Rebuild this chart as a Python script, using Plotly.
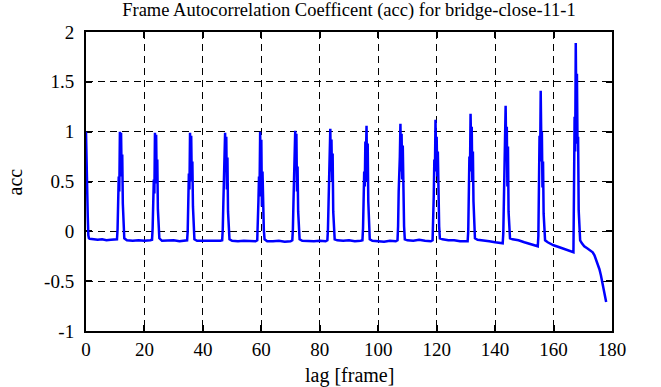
import plotly.graph_objects as go

# ---- data ----
lag = [
    0.0, 0.15, 0.3, 0.45, 0.6, 0.8, 1.0, 1.3,
    2.5, 4.0, 5.5, 7.0, 8.5, 10.0, 10.6,
    10.8, 11.0, 11.2, 11.4, 11.6, 11.8, 12.0, 12.2, 12.4, 12.6, 12.85, 13.1,
    14.0, 16.0, 18.0, 20.0, 22.0, 22.6,
    22.8, 23.0, 23.2, 23.4, 23.6, 23.8, 24.0, 24.2, 24.4, 24.6, 24.85, 25.1,
    26.0, 28.0, 30.0, 32.0, 34.0, 34.6,
    34.8, 35.0, 35.2, 35.4, 35.6, 35.8, 36.0, 36.2, 36.4, 36.6, 36.85, 37.1,
    38.0, 40.0, 42.0, 44.0, 46.0, 46.6,
    46.8, 47.0, 47.2, 47.4, 47.6, 47.8, 48.0, 48.2, 48.4, 48.6, 48.85, 49.1,
    50.0, 52.0, 54.0, 56.0, 58.0, 58.6,
    58.8, 59.0, 59.2, 59.4, 59.6, 59.8, 60.0, 60.2, 60.4, 60.6, 60.85, 61.1,
    62.0, 64.0, 66.0, 68.0, 70.0, 70.6,
    70.8, 71.0, 71.2, 71.4, 71.6, 71.8, 72.0, 72.2, 72.4, 72.6, 72.85, 73.1,
    74.0, 76.0, 78.0, 80.0, 82.0, 82.6,
    82.8, 83.0, 83.2, 83.4, 83.6, 83.8, 84.0, 84.2, 84.4, 84.6, 84.85, 85.1,
    86.0, 88.0, 90.0, 92.0, 94.0, 94.6,
    94.8, 95.0, 95.2, 95.4, 95.6, 95.8, 96.0, 96.2, 96.4, 96.6, 96.85, 97.1,
    98.0, 100.0, 102.0, 104.0, 106.0, 106.6,
    106.8, 107.0, 107.2, 107.4, 107.6, 107.8, 108.0, 108.2, 108.4, 108.6, 108.85, 109.1,
    110.0, 112.0, 114.0, 116.0, 118.0, 118.6,
    118.8, 119.0, 119.2, 119.4, 119.6, 119.8, 120.0, 120.2, 120.4, 120.6, 120.85, 121.1,
    122.0, 124.0, 126.0, 128.0, 130.0, 130.6,
    130.8, 131.0, 131.2, 131.4, 131.6, 131.8, 132.0, 132.2, 132.4, 132.6, 132.85, 133.1,
    134.0, 136.0, 138.0, 140.0, 142.0, 142.6,
    142.8, 143.0, 143.2, 143.4, 143.6, 143.8, 144.0, 144.2, 144.4, 144.6, 144.85, 145.1,
    146.0, 148.0, 150.0, 152.0, 154.0, 154.6,
    154.8, 155.0, 155.2, 155.4, 155.6, 155.8, 156.0, 156.2, 156.4, 156.6, 156.85, 157.1,
    158.0, 160.0, 162.0, 164.0, 166.0, 166.6,
    166.8, 167.0, 167.2, 167.4, 167.6, 167.8, 168.0, 168.2, 168.4, 168.6, 168.85, 169.1,
    169.7, 170.5, 171.5, 172.5, 173.4, 174.0, 174.6, 175.2, 175.7, 176.2, 176.6, 177.0, 177.4, 177.8, 178.0,
]

acc = [
    1.00, 0.70, 0.78, 0.42, 0.15, -0.04, -0.07, -0.075,
    -0.08, -0.085, -0.08, -0.09, -0.085, -0.085, -0.08,
    0.02, 0.30, 0.55, 0.40, 1.00, 0.72, 0.99, 0.55, 0.77, 0.28, 0.05, -0.07,
    -0.09, -0.095, -0.09, -0.095, -0.09, -0.085,
    0.03, 0.25, 0.52, 0.38, 0.99, 0.62, 0.97, 0.48, 0.72, 0.22, 0.03, -0.07,
    -0.095, -0.095, -0.09, -0.10, -0.095, -0.09,
    0.00, 0.22, 0.58, 0.42, 0.99, 0.66, 0.96, 0.50, 0.70, 0.25, 0.04, -0.08,
    -0.095, -0.095, -0.10, -0.095, -0.095, -0.09,
    0.02, 0.28, 0.50, 0.62, 0.99, 0.60, 0.95, 0.42, 0.74, 0.20, 0.03, -0.08,
    -0.095, -0.10, -0.095, -0.10, -0.10, -0.09,
    0.03, 0.30, 0.55, 0.45, 1.00, 0.35, 0.92, 0.25, 0.60, 0.18, 0.02, -0.08,
    -0.10, -0.10, -0.095, -0.105, -0.10, -0.09,
    0.02, 0.30, 0.48, 0.62, 1.01, 0.70, 0.98, 0.40, 0.65, 0.20, 0.03, -0.08,
    -0.095, -0.10, -0.10, -0.095, -0.10, -0.09,
    0.02, 0.28, 0.55, 0.70, 1.03, 0.60, 0.92, 0.50, 0.78, 0.20, 0.03, -0.08,
    -0.09, -0.095, -0.09, -0.10, -0.095, -0.09,
    0.03, 0.30, 0.60, 0.45, 0.90, 0.75, 1.06, 0.50, 0.88, 0.30, 0.04, -0.08,
    -0.095, -0.10, -0.105, -0.095, -0.10, -0.09,
    0.05, 0.40, 0.55, 0.75, 1.08, 0.60, 0.98, 0.52, 0.86, 0.25, 0.05, -0.08,
    -0.09, -0.095, -0.085, -0.095, -0.10, -0.09,
    0.05, 0.35, 0.72, 0.60, 1.12, 0.75, 0.95, 0.55, 0.80, 0.30, 0.05, -0.07,
    -0.08, -0.09, -0.09, -0.10, -0.105, -0.10,
    0.00, 0.35, 0.75, 0.60, 1.18, 0.85, 1.05, 0.50, 0.80, 0.30, 0.05, -0.07,
    -0.085, -0.09, -0.10, -0.11, -0.12, -0.12,
    -0.02, 0.40, 0.78, 0.93, 1.26, 0.80, 1.05, 0.45, 0.85, 0.20, 0.02, -0.07,
    -0.08, -0.09, -0.11, -0.13, -0.15, -0.15,
    -0.05, 0.44, 0.96, 0.70, 1.41, 0.90, 1.00, 0.44, 0.70, 0.18, 0.02, -0.09,
    -0.11, -0.14, -0.16, -0.18, -0.20, -0.21,
    -0.21, 0.44, 1.15, 0.80, 1.89, 1.20, 1.58, 0.88, 0.95, 0.21, 0.02, -0.09,
    -0.12, -0.15, -0.17, -0.19, -0.21, -0.24, -0.29, -0.33, -0.38, -0.44, -0.50, -0.56, -0.63, -0.69, -0.71,
]

x_tick_vals = [0, 20, 40, 60, 80, 100, 120, 140, 160, 180]
x_tick_text = ["0", "20", "40", "60", "80", "100", "120", "140", "160", "180"]
y_tick_vals = [-1, -0.5, 0, 0.5, 1, 1.5, 2]
y_tick_text = ["-1", "-0.5", "0", "0.5", "1", "1.5", "2"]

title_text = "Frame Autocorrelation Coefficent (acc) for bridge-close-11-1"
x_title = "lag [frame]"
y_title = "acc"

FONT = "Liberation Serif, Times New Roman, serif"

fig = go.Figure()
fig.add_trace(go.Scatter(
    x=lag, y=acc, mode="lines",
    line=dict(color="#0000ff", width=2.5),
    showlegend=False, hoverinfo="skip",
))

axis_common = dict(
    showline=True, linecolor="black", linewidth=2, mirror="ticks",
    ticks="inside", ticklen=6, tickwidth=1.5, tickcolor="black",
    showgrid=True, gridcolor="black", gridwidth=1, griddash="7px,5px",
    zeroline=False, layer="below traces",
    tickfont=dict(family=FONT, size=19, color="black"),
)

fig.update_xaxes(range=[0, 180], tickmode="array", tickvals=x_tick_vals,
                 ticktext=x_tick_text, ticklabelstandoff=0, **axis_common)
fig.update_yaxes(range=[-1, 2], tickmode="array", tickvals=y_tick_vals,
                 ticktext=y_tick_text, ticklabelstandoff=6, **axis_common)

fig.update_layout(
    width=661, height=387,
    margin=dict(l=86, r=49, t=32, b=56),
    paper_bgcolor="white", plot_bgcolor="white",
    font=dict(family=FONT, color="black"),
    title=dict(text=title_text, x=(86 + 612) / 2 / 661, xanchor="center",
               y=1 - 10 / 387, yanchor="middle", yref="container",
               font=dict(family=FONT, size=18.5, color="black")),
    annotations=[
        dict(text=x_title, xref="paper", yref="paper", x=0.5, y=-0.15,
             xanchor="center", yanchor="middle", showarrow=False,
             font=dict(family=FONT, size=20, color="black")),
        dict(text=y_title, xref="paper", yref="paper", x=-0.135, y=0.5,
             xanchor="center", yanchor="middle", textangle=-90, showarrow=False,
             font=dict(family=FONT, size=20, color="black")),
    ],
)

fig.write_html("out.html", config={"displayModeBar": False},
               post_script="document.body.style.margin='0';document.body.style.overflow='hidden';")
